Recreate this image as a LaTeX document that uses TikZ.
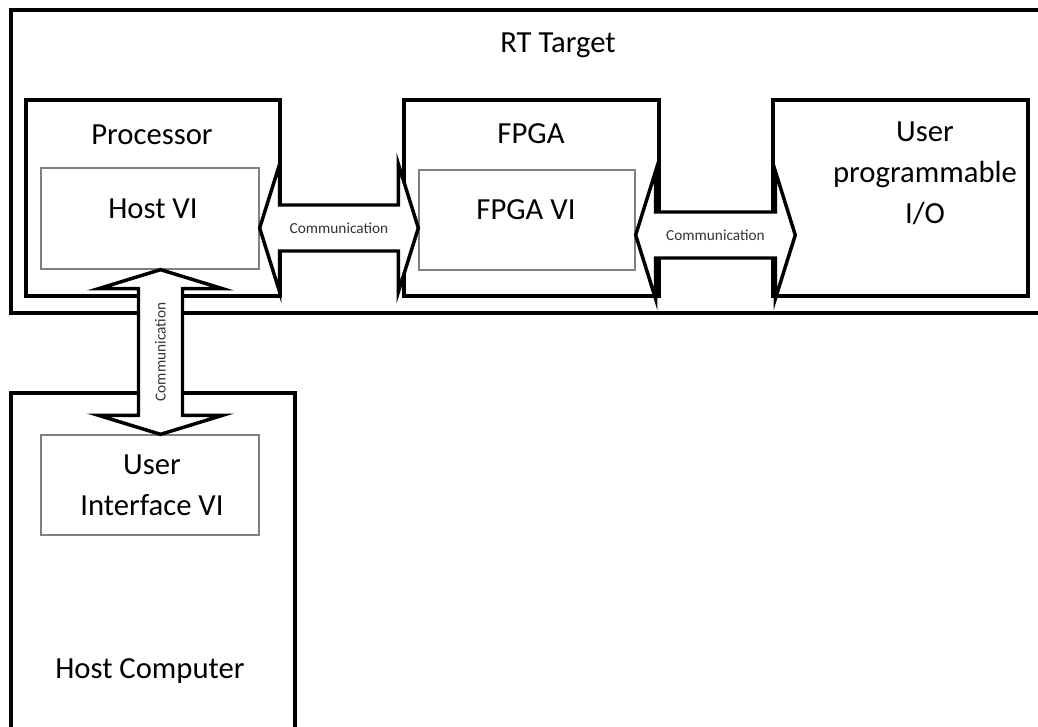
\documentclass[tikz,border=0pt]{standalone}
\usepackage{fontspec}
\setmainfont{Carlito}
\usetikzlibrary{positioning,calc,fit}

\tikzset{
  unit/.style={draw=black, line width=2.6pt, fill=white, rectangle, inner sep=0pt},
  vibox/.style={draw=black!50, line width=1pt, fill=white, rectangle, inner sep=0pt},
  title/.style={font=\fontsize{23}{30.75}\selectfont, align=center},
  commarrow/.style={draw=black, line width=2.6pt, fill=white, line join=miter},
  commtext/.style={font=\fontsize{11.5}{13}\selectfont, text=black!80}
}

% horizontal double block arrow, tip to tip
\newcommand{\hcomm}[2]{%
  \draw[commarrow] let \p1=(#1), \p2=(#2) in
    (\x1,\y1) -- (\x1+15pt,\y1+48pt) -- (\x1+15pt,\y1+17.25pt) -- (\x2-15pt,\y1+17.25pt)
    -- (\x2-15pt,\y1+48pt) -- (\x2,\y1) -- (\x2-15pt,\y1-48pt) -- (\x2-15pt,\y1-17.25pt)
    -- (\x1+15pt,\y1-17.25pt) -- (\x1+15pt,\y1-48pt) -- cycle;
  \node[commtext] at ($(#1)!0.5!(#2)$) {Communication};
}
% vertical double block arrow, top tip first
\newcommand{\vcomm}[2]{%
  \draw[commarrow] let \p1=(#1), \p2=(#2) in
    (\x1,\y1) -- (\x1+46.5pt,\y1-14.25pt) -- (\x1+16.5pt,\y1-14.25pt) -- (\x1+16.5pt,\y2+14.25pt)
    -- (\x1+46.5pt,\y2+14.25pt) -- (\x1,\y2) -- (\x1-46.5pt,\y2+14.25pt) -- (\x1-16.5pt,\y2+14.25pt)
    -- (\x1-16.5pt,\y1-14.25pt) -- (\x1-46.5pt,\y1-14.25pt) -- cycle;
  \node[commtext, rotate=90] at ($(#1)!0.5!(#2)$) {Communication};
}

\begin{document}
\begin{tikzpicture}[x=0.75pt, y=-0.75pt]
\useasboundingbox (0,0) rectangle (1038,726);
\fill[white] (0,0) rectangle (1038,726);
\clip (0,0) rectangle (1038,726);

% outer units
\node[unit, fit={(11,10) (1060,313)}] (rt) {};
\node[unit, fit={(11,393) (295,760)}] (host) {};
\node[unit, fit={(26,100) (280,296)}] (proc) {};
\node[unit, fit={(404,100) (659,296)}] (fpga) {};
\node[unit, fit={(773,100) (1028,296)}] (io) {};

% VIs
\node[vibox, fit={(41,168) (259,269)}] (hostvi) {};
\node[vibox, fit={(419,170) (635,270)}] (fpgavi) {};
\node[vibox, fit={(41,435) (259,535)}] (uivi) {};

% labels
\node[title] at (558,45) {RT Target};
\node[title] at (152,135) {Processor};
\node[title] at (531,134) {FPGA};
\node[title] at (925,173) {User\\programmable\\I/O};
\node[title] at (153,209) {Host VI};
\node[title] at (526,210) {FPGA VI};
\node[title] at (152,485) {User\\Interface VI};
\node[title] at (150,671) {Host Computer};

% communication links
\coordinate (c1a) at (hostvi.east |- 0,228);
\coordinate (c1b) at (fpgavi.west |- 0,228);
\coordinate (c2a) at (fpgavi.east |- 0,235);
\coordinate (c2b) at ($(io.west |- 0,235)+(24,0)$);
\coordinate (c3a) at (160.5,0 |- hostvi.south);
\coordinate (c3b) at (160.5,0 |- uivi.north);
\hcomm{c1a}{c1b}
\hcomm{c2a}{c2b}
\vcomm{c3a}{c3b}
\end{tikzpicture}
\end{document}
